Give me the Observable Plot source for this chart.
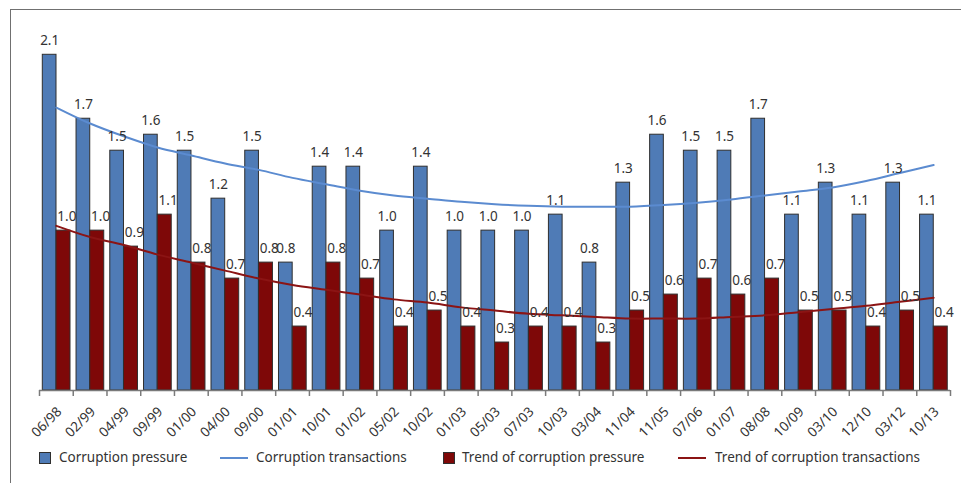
<!DOCTYPE html>
<html><head><meta charset="utf-8">
<script src="https://cdn.jsdelivr.net/npm/d3@7"></script>
<script src="https://cdn.jsdelivr.net/npm/@observablehq/plot@0.6"></script>
<style>
body{margin:0;background:#fff;}
#wrap{position:relative;width:961px;height:483px;overflow:hidden;font-family:"Noto Sans",sans-serif;}
#frame{position:absolute;left:10px;top:9px;width:960px;height:480px;border-left:1.5px solid #707070;border-top:1.5px solid #707070;box-sizing:border-box;}
#chart{position:absolute;left:0;top:0;}
.sw{position:absolute;box-sizing:border-box;}
.lt{position:absolute;font-size:13.5px;color:#333;line-height:18px;white-space:nowrap;}
</style></head>
<body>
<div id="wrap"><div id="frame"></div><div id="chart"></div><div id="legend"></div></div>
<script>
const periods = ["06/98","02/99","04/99","09/99","01/00","04/00","09/00","01/01","10/01","01/02","05/02","10/02","01/03","05/03","07/03","10/03","03/04","11/04","11/05","07/06","01/07","08/08","10/09","03/10","12/10","03/12","10/13"];
const blueBars = [2.1,1.7,1.5,1.6,1.5,1.2,1.5,0.8,1.4,1.4,1.0,1.4,1.0,1.0,1.0,1.1,0.8,1.3,1.6,1.5,1.5,1.7,1.1,1.3,1.1,1.3,1.1];
const redBars = [1.0,1.0,0.9,1.1,0.8,0.7,0.8,0.4,0.8,0.7,0.4,0.5,0.4,0.3,0.4,0.4,0.3,0.5,0.6,0.7,0.6,0.7,0.5,0.5,0.4,0.5,0.4];
const blueTrend = [1.77,1.67,1.59,1.52,1.47,1.42,1.38,1.33,1.29,1.25,1.22,1.20,1.18,1.165,1.155,1.15,1.15,1.15,1.16,1.175,1.195,1.22,1.245,1.27,1.31,1.36,1.41];
const redTrend = [1.03,0.96,0.91,0.85,0.80,0.75,0.70,0.66,0.63,0.60,0.57,0.55,0.52,0.50,0.48,0.47,0.46,0.45,0.45,0.45,0.46,0.47,0.49,0.51,0.53,0.555,0.58];
const legendLabels = ["Corruption pressure","Corruption transactions","Trend of corruption pressure","Trend of corruption transactions"];

const blue = "#4F7BB6", red = "#7E0808", blueLine = "#5B8BD0", redLine = "#8B1414";
const rows = periods.map((p,i)=>({p, a: blueBars[i], b: redBars[i], ta: blueTrend[i], tb: redTrend[i]}));
const W = 961, ML = 39, MR = 11;
const bw = (W - ML - MR) / periods.length;

const chart = Plot.plot({
  width: W, height: 440,
  marginLeft: ML, marginRight: MR, marginTop: 38.3, marginBottom: 50,
  x: {type: "band", domain: periods, padding: 0, round: false, axis: null},
  y: {domain: [0, 2.2], axis: null},
  style: {fontFamily: "Noto Sans", fontSize: "13.5px", color: "#333", background: "transparent"},
  marks: [
    Plot.barY(rows, {x: "p", y: "a", fill: blue, stroke: "#2f2f2f", strokeWidth: 1, insetLeft: 3.3, insetRight: bw - 17}),
    Plot.barY(rows, {x: "p", y: "b", fill: red, stroke: "#2f2f2f", strokeWidth: 1, insetLeft: 17, insetRight: bw - 31}),
    Plot.ruleY([0], {stroke: "#7a7a7a", strokeWidth: 1.5}),
    Plot.ruleX(periods, {x: d => d, y1: 0, y2: 0, insetTop: 6, dx: -bw/2, stroke: "#7a7a7a", strokeWidth: 1.5}),
    Plot.ruleX([periods[periods.length-1]], {x: d => d, y1: 0, y2: 0, insetTop: 6, dx: bw/2, stroke: "#7a7a7a", strokeWidth: 1.5}),
    Plot.line(rows, {x: "p", y: "ta", stroke: blueLine, strokeWidth: 2, curve: "catmull-rom"}),
    Plot.line(rows, {x: "p", y: "tb", stroke: redLine, strokeWidth: 2, curve: "catmull-rom"}),
    Plot.text(rows, {x: "p", y: "a", text: d => d.a.toFixed(1), dx: -6.7, dy: -14, fill: "#333"}),
    Plot.text(rows, {x: "p", y: "b", text: d => d.b.toFixed(1), dx: 10.5, dy: -14, fill: "#333"}),
    Plot.text(periods, {x: d => d, text: d => d, frameAnchor: "bottom", rotate: -45, textAnchor: "end", dx: 6, dy: 22, fill: "#333"})
  ]
});
document.getElementById("chart").appendChild(chart);

const leg = document.getElementById("legend");
const items = [
  {kind: "sq", color: blue, x: 39, tx: 59},
  {kind: "ln", color: blueLine, x: 220, tx: 256},
  {kind: "sq", color: red, x: 443, tx: 462},
  {kind: "ln", color: redLine, x: 678, tx: 715}
];
items.forEach((it, i) => {
  const s = document.createElement("div");
  s.className = "sw";
  if (it.kind === "sq") {
    Object.assign(s.style, {left: it.x + "px", top: "452px", width: "12px", height: "12px", background: it.color, border: "1px solid #2f2f2f"});
  } else {
    Object.assign(s.style, {left: it.x + "px", top: "456.5px", width: "28px", height: "2.5px", background: it.color});
  }
  leg.appendChild(s);
  const t = document.createElement("div");
  t.className = "lt";
  t.textContent = legendLabels[i];
  Object.assign(t.style, {left: it.tx + "px", top: "448px"});
  leg.appendChild(t);
});
</script>
</body></html>
